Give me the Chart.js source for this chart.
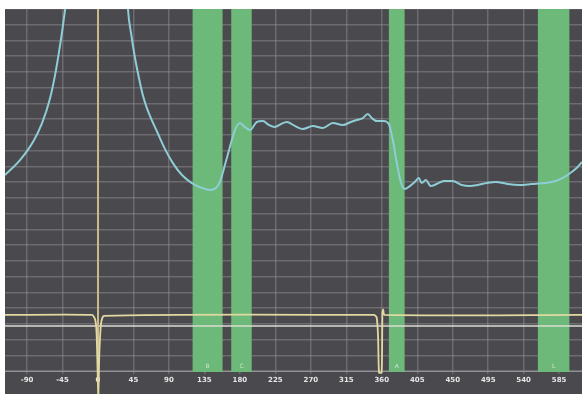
<!DOCTYPE html>
<html>
<head>
<meta charset="utf-8">
<script src="https://cdn.jsdelivr.net/npm/chart.js@4/dist/chart.umd.min.js"></script>
<style>
  html, body { margin: 0; padding: 0; background: #ffffff; }
  #wrap { position: absolute; left: 5px; top: 9px; width: 577px; height: 385px; }
</style>
</head>
<body>
<div id="wrap"><canvas id="c" width="577" height="385"></canvas></div>
<script>
// Sweep angle (deg) and response level of the main trace
const angle = [-118, -99, -82, -71, -61, -54.5, -50.7, -45.6, -41.8, -39.3,
  36.8, 38, 41.8, 46.9, 52, 57, 62, 66, 75, 85, 95, 106.5, 119, 132, 142, 149.6, 154.6, 161, 167.3, 173.7,
  180, 186.3, 192.7, 201.5, 209.2, 216.8, 224.4, 232, 239.6, 249.7, 259.9, 272.5, 285.2, 297.9,
  310.6, 320.7, 328.3, 335.9, 342.3, 347.3, 353.7, 362.5, 368.9, 374, 379.1, 384.1, 389.2,
  395.5, 401.8, 406.9, 410.7, 415.8, 422.1, 429.7, 438.6, 450, 461.4, 471.6, 481.7, 493.1,
  504.5, 519.7, 534.9, 550.2, 566.6, 580.6, 592, 600.9, 608.5, 614];
const response = [12.45, 13.4, 14.6, 15.75, 17.3, 18.8, 19.9, 21.55, 22.95, 23.9,
  24.3, 23.0, 21.5, 19.9, 18.6, 17.5, 16.7, 16.2, 15.2, 14.1, 13.21, 12.45, 11.94, 11.63, 11.5, 11.63, 12.01, 13.09, 14.23, 15.31,
  15.76, 15.5, 15.31, 15.82, 15.88, 15.63, 15.5, 15.69, 15.82, 15.57, 15.37, 15.57, 15.44, 15.76,
  15.63, 15.82, 15.95, 16.07, 16.33, 16.07, 15.88, 15.88, 15.69, 14.68, 13.21, 12.01, 11.56,
  11.75, 12.01, 12.26, 11.94, 12.13, 11.75, 11.88, 12.07, 12.07, 11.82, 11.75, 11.82, 11.94,
  12.01, 11.88, 11.82, 11.88, 11.94, 12.07, 12.33, 12.64, 12.96, 13.28];

// Marker trace with its two notches
const markerX = [-118, -7.6, -3.8, -1.9, -0.6, 0.4, 1.6, 3.8, 7.6,
  350, 353.5, 355.3, 356.5, 359.8, 360.8, 361.8, 363.5, 614];
const markerY = [3.56, 3.56, 3.3, 2.5, 0.2, -1.6, 1.0, 3.0, 3.5,
  3.56, 3.4, 2.2, -0.1, -0.1, 3.7, 3.9, 3.56, 3.56];

// Reference level line
const refX = [-118, 614];
const refY = [2.86, 2.86];

// Zero-angle cursor
const cursorX = [0, 0];
const cursorY = [0, 23];

// Shaded sectors
const bandStart = [120, 169, 369, 558];
const bandEnd = [158, 195, 389, 598];
const bandLabels = ['B', 'C', 'A', 'L'];

// Axis tick labels
const tickValues = [-90, -45, 0, 45, 90, 135, 180, 225, 270, 315, 360, 405, 450, 495, 540, 585];

const pts = (xs, ys) => xs.map((x, i) => ({ x: x, y: ys[i] }));

const backdrop = {
  id: 'backdrop',
  beforeDraw(chart) {
    const ctx = chart.ctx;
    ctx.save();
    ctx.fillStyle = '#4a494d';
    ctx.fillRect(0, 0, chart.width, chart.height);
    ctx.restore();
  }
};

const sectors = {
  id: 'sectors',
  beforeDatasetsDraw(chart) {
    const ctx = chart.ctx;
    const xs = chart.scales.x;
    const area = chart.chartArea;
    ctx.save();
    bandStart.forEach((s, i) => {
      const x0 = xs.getPixelForValue(s);
      const x1 = xs.getPixelForValue(bandEnd[i]);
      ctx.fillStyle = '#6cb97a';
      ctx.fillRect(x0, area.top, x1 - x0, area.bottom - area.top + 1);
      ctx.fillStyle = 'rgba(235,245,235,0.75)';
      ctx.font = '6px "DejaVu Sans"';
      ctx.textAlign = 'center';
      ctx.textBaseline = 'bottom';
      ctx.fillText(bandLabels[i], (x0 + x1) / 2, area.bottom - 2);
    });
    ctx.restore();
  }
};

const gridColor = 'rgba(150,148,152,0.45)';

new Chart(document.getElementById('c'), {
  type: 'line',
  data: {
    datasets: [
      {
        data: pts(angle, response),
        borderColor: '#8fcdd6',
        borderWidth: 2,
        pointRadius: 0,
        cubicInterpolationMode: 'monotone',
        order: 1
      },
      {
        data: pts(cursorX, cursorY),
        borderColor: '#c9bb8c',
        borderWidth: 2,
        pointRadius: 0,
        tension: 0,
        order: 3
      },
      {
        data: pts(refX, refY),
        borderColor: '#dcdcd4',
        borderWidth: 1.5,
        pointRadius: 0,
        tension: 0,
        order: 4
      },
      {
        data: pts(markerX, markerY),
        borderColor: '#e2d9a2',
        borderWidth: 1.8,
        pointRadius: 0,
        tension: 0.2,
        clip: false,
        order: 2
      }
    ]
  },
  options: {
    responsive: false,
    devicePixelRatio: 1,
    animation: false,
    layout: { padding: 0 },
    plugins: { legend: { display: false }, tooltip: { enabled: false } },
    scales: {
      x: {
        type: 'linear',
        min: -118,
        max: 614,
        afterBuildTicks: s => { s.ticks = tickValues.map(v => ({ value: v })); },
        afterFit: s => { s.height = 23; },
        grid: { color: gridColor, lineWidth: 1.5, tickLength: 3 },
        border: { display: true, color: 'rgba(170,168,172,0.7)', width: 1 },
        ticks: {
          color: '#e6e6e6',
          font: { family: 'DejaVu Sans', size: 7, weight: 'bold' },
          padding: 2,
          maxRotation: 0,
          autoSkip: false
        }
      },
      y: {
        type: 'linear',
        min: 0,
        max: 23,
        afterFit: s => { s.width = 0; },
        grid: { color: gridColor, lineWidth: 1.5, drawTicks: false },
        border: { display: false },
        ticks: { display: false, stepSize: 1 }
      }
    }
  },
  plugins: [backdrop, sectors]
});
</script>
</body>
</html>
